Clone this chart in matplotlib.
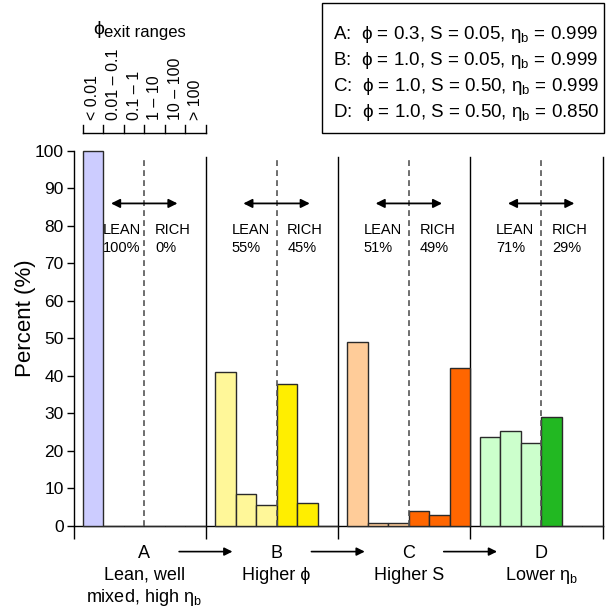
import matplotlib
matplotlib.use("Agg")
import matplotlib.pyplot as plt
from matplotlib.patches import Rectangle
import matplotlib.transforms as mtransforms

plt.rcParams['font.family'] = ['Liberation Sans', 'DejaVu Sans']
plt.rcParams['mathtext.fontset'] = 'custom'
plt.rcParams['mathtext.rm'] = 'Liberation Sans'
plt.rcParams['mathtext.it'] = 'Liberation Sans:italic'
plt.rcParams['mathtext.bf'] = 'Liberation Sans:bold'

# ---------------- data ----------------
phi_ranges = ["< 0.01", "0.01 \u2013 0.1", "0.1 \u2013 1", "1 \u2013 10", "10 \u2013 100", "> 100"]
cases = ["A", "B", "C", "D"]
pct_A = [100.0, 0.0, 0.0, 0.0, 0.0, 0.0]
pct_B = [41.0, 8.3, 5.6, 37.7, 6.1, 0.0]
pct_C = [49.0, 0.6, 0.6, 3.9, 2.8, 42.0]
pct_D = [23.6, 25.2, 21.9, 28.9, 0.0, 0.0]
lean_pct = [100, 55, 51, 71]
rich_pct = [0, 45, 49, 29]
phi_vals = ["0.3", "1.0", "1.0", "1.0"]
S_vals = ["0.05", "0.05", "0.50", "0.50"]
eta_vals = ["0.999", "0.999", "0.999", "0.850"]
case_desc = [["Lean, well", "mixed, high $\\mathrm{\\eta_b}$"],
             ["Higher \u03d5"], ["Higher S"], ["Lower $\\mathrm{\\eta_b}$"]]
y_ticks = [0, 10, 20, 30, 40, 50, 60, 70, 80, 90, 100]

lean_colors = ["#CCCCFF", "#FFF799", "#FFCC99", "#CCFFCC"]
rich_colors = ["#CCCCFF", "#FFEE00", "#FF6600", "#22B822"]
all_pct = [pct_A, pct_B, pct_C, pct_D]

# ---------------- layout ----------------
W, H = 608, 607
fig = plt.figure(figsize=(W / 100, H / 100), dpi=100)

def fx(x):
    return x / W

def fy(y):
    return 1 - y / H

ax_l, ax_r, ax_b, ax_t = 73.5, 602.7, 525.5, 151.0
ax = fig.add_axes([fx(ax_l), fy(ax_b), (ax_r - ax_l) / W, (ax_b - ax_t) / H])

G = 6.45      # group width in bin units
OFF = 0.45    # offset of first bin within group
nb = len(phi_ranges)
ax.set_xlim(0, 4 * G)
ax.set_ylim(0, 100)

for g, pcts in enumerate(all_pct):
    lefts = [g * G + OFF + i for i in range(nb)]
    cols = [lean_colors[g] if i < 3 else rich_colors[g] for i in range(nb)]
    ax.bar(lefts, pcts, width=1.0, align='edge', color=cols,
           edgecolor='#2a2a2a', linewidth=1.0, clip_on=False, zorder=3)

# separators and dashed phi=1 lines
top_line = 98.3
for g in range(1, 5):
    ax.plot([g * G, g * G], [0, top_line], color='black', lw=1.0, zorder=2, clip_on=False)
for g in range(4):
    xd = g * G + OFF + 3
    ax.plot([xd, xd], [0, top_line], color='#555555', lw=1.2, ls=(0, (3.5, 2.5)), zorder=4)
    # double arrow
    ax.annotate("", xy=(xd - 1.62, 86.0), xytext=(xd + 1.62, 86.0),
                arrowprops=dict(arrowstyle='<|-|>', color='black', lw=1.3,
                                mutation_scale=13, shrinkA=0, shrinkB=0), zorder=5)
    lean_left = -2.0 if g == 0 else -2.2
    ax.text(xd + lean_left, 76.5, "LEAN\n%d%%" % lean_pct[g], ha='left', va='center',
            multialignment='left', linespacing=1.35, fontsize=10.5, zorder=6)
    ax.text(xd + 0.52, 76.5, "RICH\n%d%%" % rich_pct[g], ha='left', va='center',
            multialignment='left', linespacing=1.35, fontsize=10.5, zorder=6)

# axes styling
for s in ['top', 'right']:
    ax.spines[s].set_visible(False)
ax.spines['left'].set_linewidth(1.0)
ax.spines['bottom'].set_linewidth(1.0)
ax.set_yticks(y_ticks)
ax.set_yticklabels([str(v) for v in y_ticks], fontsize=12.5)
ax.tick_params(axis='y', direction='out', length=5, width=1.0, pad=2)
ax.set_xticks([g * G for g in range(5)])
ax.set_xticklabels([])
ax.tick_params(axis='x', direction='out', length=9, width=1.0)

fig.text(fx(25), fy(318), "Percent (%)", rotation=90, ha='center', va='center', fontsize=16)

# phi exit range scale at top (above group A)
edges = [OFF + i for i in range(nb + 1)]
ax.plot([edges[0], edges[-1]], [104.8, 104.8], color='black', lw=1.0, clip_on=False)
for e in edges:
    ax.plot([e, e], [104.8, 107.0], color='black', lw=1.0, clip_on=False)
for i, lab in enumerate(phi_ranges):
    ax.text(OFF + i + 0.5, 108.3, lab, rotation=90, ha='center', va='bottom',
            fontsize=11.5, clip_on=False)
fig.text(fx(93), fy(34), "\u03d5", ha='left', va='baseline', fontsize=14)
fig.text(fx(104), fy(37), "exit ranges", ha='left', va='baseline', fontsize=12)

# legend box
fig.patches.append(Rectangle((fx(322), fy(133)), (604 - 322) / W, (133 - 3) / H,
                             transform=fig.transFigure, fill=False, ec='black', lw=1.0))
row_y = [33, 59, 85, 111]
for k in range(4):
    s = "%s:  \u03d5 = %s, S = %s, $\\mathrm{\\eta_b}$ = %s" % (cases[k], phi_vals[k], S_vals[k], eta_vals[k])
    fig.text(fx(333), fy(row_y[k] + 6), s, ha='left', va='baseline', fontsize=13.5)

# bottom labels
blend = mtransforms.blended_transform_factory(ax.transData, fig.transFigure)
for g in range(4):
    xd = g * G + OFF + 3
    ax.text(xd, fy(557.5), cases[g], transform=blend, ha='center', va='baseline', fontsize=13)
    for j, line in enumerate(case_desc[g]):
        ax.text(xd, fy(580 + 22.5 * j), line, transform=blend, ha='center', va='baseline', fontsize=13)
for g in range(1, 4):
    xb = g * G
    ax.annotate("", xy=(xb + 1.3, fy(551.6)), xytext=(xb - 1.3, fy(551.6)),
                xycoords=blend, textcoords=blend,
                arrowprops=dict(arrowstyle='-|>', color='black', lw=1.2,
                                mutation_scale=12, shrinkA=0, shrinkB=0))

fig.savefig("out.png", dpi=100)
